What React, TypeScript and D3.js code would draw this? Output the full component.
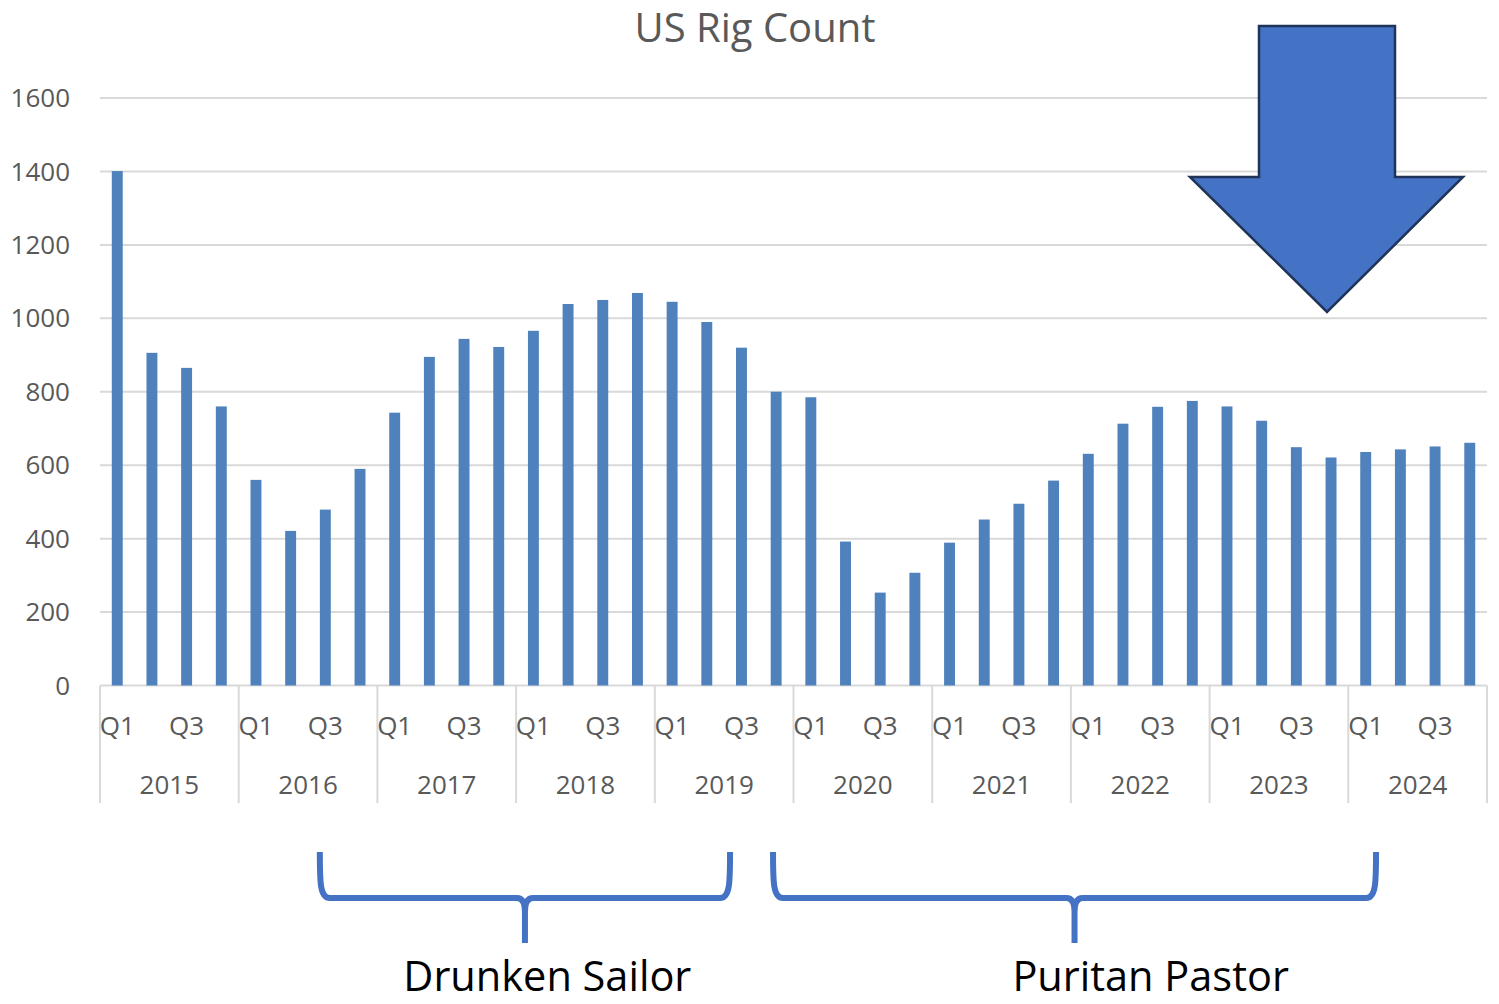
import React from 'react';
import * as d3 from 'd3';

// categories
const years = ['2015', '2016', '2017', '2018', '2019', '2020', '2021', '2022', '2023', '2024'];
const quarters = ['Q1', 'Q2', 'Q3', 'Q4'];
const shownQuarters = ['Q1', 'Q3'];

// quarterly rig count
const rigCount = [
    1401, 906, 865, 760,   // 2015
    560, 421, 479, 590,    // 2016
    743, 895, 944, 922,    // 2017
    966, 1039, 1050, 1069, // 2018
    1045, 990, 920, 800,   // 2019
    785, 392, 253, 307,    // 2020
    389, 452, 495, 558,    // 2021
    631, 713, 759, 775,    // 2022
    760, 721, 649, 621,    // 2023
    636, 643, 651, 661     // 2024
];

const yTicks = [0, 200, 400, 600, 800, 1000, 1200, 1400, 1600];

// bracket annotations, spans given in quarters from the start of 2015
const brackets = [
    { label: 'Drunken Sailor', from: 6.34, to: 18.17, labelAt: 12.9 },
    { label: 'Puritan Pastor', from: 19.41, to: 36.8, labelAt: 30.3 }
];

const width = 1499;
const height = 1004;
const plot = { left: 100, right: 1487, top: 98, bottom: 685.5 };
const font = '"Open Sans", "DejaVu Sans", sans-serif';
const grey = '#595959';
const gridColor = '#D9D9D9';

const data = years.flatMap((yr, i) =>
    quarters.map((q, j) => ({ key: `${yr}-${q}`, year: yr, quarter: q, value: rigCount[i * 4 + j] }))
);

const x = d3.scaleBand<string>()
    .domain(data.map(d => d.key))
    .range([plot.left, plot.right])
    .paddingInner(0.685)
    .paddingOuter(0.34);

const xYear = d3.scaleBand<string>()
    .domain(years)
    .range([plot.left, plot.right]);

// continuous quarter position, used for the annotations
const xq = d3.scaleLinear()
    .domain([0, data.length])
    .range([plot.left, plot.right]);

const y = d3.scaleLinear()
    .domain([0, 1600])
    .range([plot.bottom, plot.top]);

function bracePath(x0: number, x1: number) {
    const y0 = 852, y1 = 898, y2 = 943;
    const xc = (x0 + x1) / 2;
    return `M${x0},${y0} C${x0},${y0 + 30} ${x0},${y1} ${x0 + 10},${y1}` +
        ` L${xc - 8},${y1} Q${xc},${y1} ${xc},${y1 + 14} L${xc},${y2}` +
        ` M${xc},${y1 + 14} Q${xc},${y1} ${xc + 8},${y1} L${x1 - 10},${y1}` +
        ` C${x1},${y1} ${x1},${y0 + 30} ${x1},${y0}`;
}

export default function App() {
    const arrow = [
        [1259, 26], [1395, 26], [1395, 177], [1463, 177],
        [1327, 312], [1190, 177], [1259, 177]
    ];

    return (
        <svg width={width} height={height}
            style={{ position: 'absolute', left: 0, top: 0, background: '#fff' }}>
            <text x={755} y={42} textAnchor="middle" fontFamily={font} fontSize={40} fill={grey}>
                US Rig Count
            </text>

            {/* gridlines and y tick labels */}
            {yTicks.map(t => (
                <g key={t}>
                    <line x1={plot.left} x2={plot.right} y1={y(t)} y2={y(t)}
                        stroke={gridColor} strokeWidth={2} />
                    <text x={70} y={y(t)} dy="0.35em" textAnchor="end"
                        fontFamily={font} fontSize={26} fill={grey}>{t}</text>
                </g>
            ))}

            {/* bars */}
            {data.map(d => (
                <rect key={d.key} x={x(d.key)} width={x.bandwidth()}
                    y={y(d.value)} height={y(0) - y(d.value)} fill="#4F81BD" />
            ))}

            {/* category axis */}
            {years.map(yr => (
                <line key={'sep' + yr} x1={xYear(yr)} x2={xYear(yr)} y1={plot.bottom} y2={803}
                    stroke={gridColor} strokeWidth={2} />
            ))}
            <line x1={plot.right} x2={plot.right} y1={plot.bottom} y2={803}
                stroke={gridColor} strokeWidth={2} />

            {data.filter(d => shownQuarters.includes(d.quarter)).map(d => (
                <text key={'q' + d.key} x={(x(d.key) as number) + x.bandwidth() / 2} y={726}
                    dy="0.35em" textAnchor="middle" fontFamily={font} fontSize={26} fill={grey}>
                    {d.quarter}
                </text>
            ))}
            {years.map(yr => (
                <text key={'y' + yr} x={(xYear(yr) as number) + xYear.bandwidth() / 2} y={785}
                    dy="0.35em" textAnchor="middle" fontFamily={font} fontSize={26} fill={grey}>
                    {yr}
                </text>
            ))}

            {/* down arrow */}
            <polygon points={arrow.map(p => p.join(',')).join(' ')}
                fill="#4472C4" stroke="#1F3458" strokeWidth={2.5} />

            {/* brackets */}
            {brackets.map(b => (
                <g key={b.label}>
                    <path d={bracePath(xq(b.from), xq(b.to))} fill="none" stroke="#4472C4" strokeWidth={6} />
                    <text x={xq(b.labelAt)} y={991} textAnchor="middle" fontFamily={font}
                        fontSize={41.5} fill="#000">{b.label}</text>
                </g>
            ))}
        </svg>
    );
}
